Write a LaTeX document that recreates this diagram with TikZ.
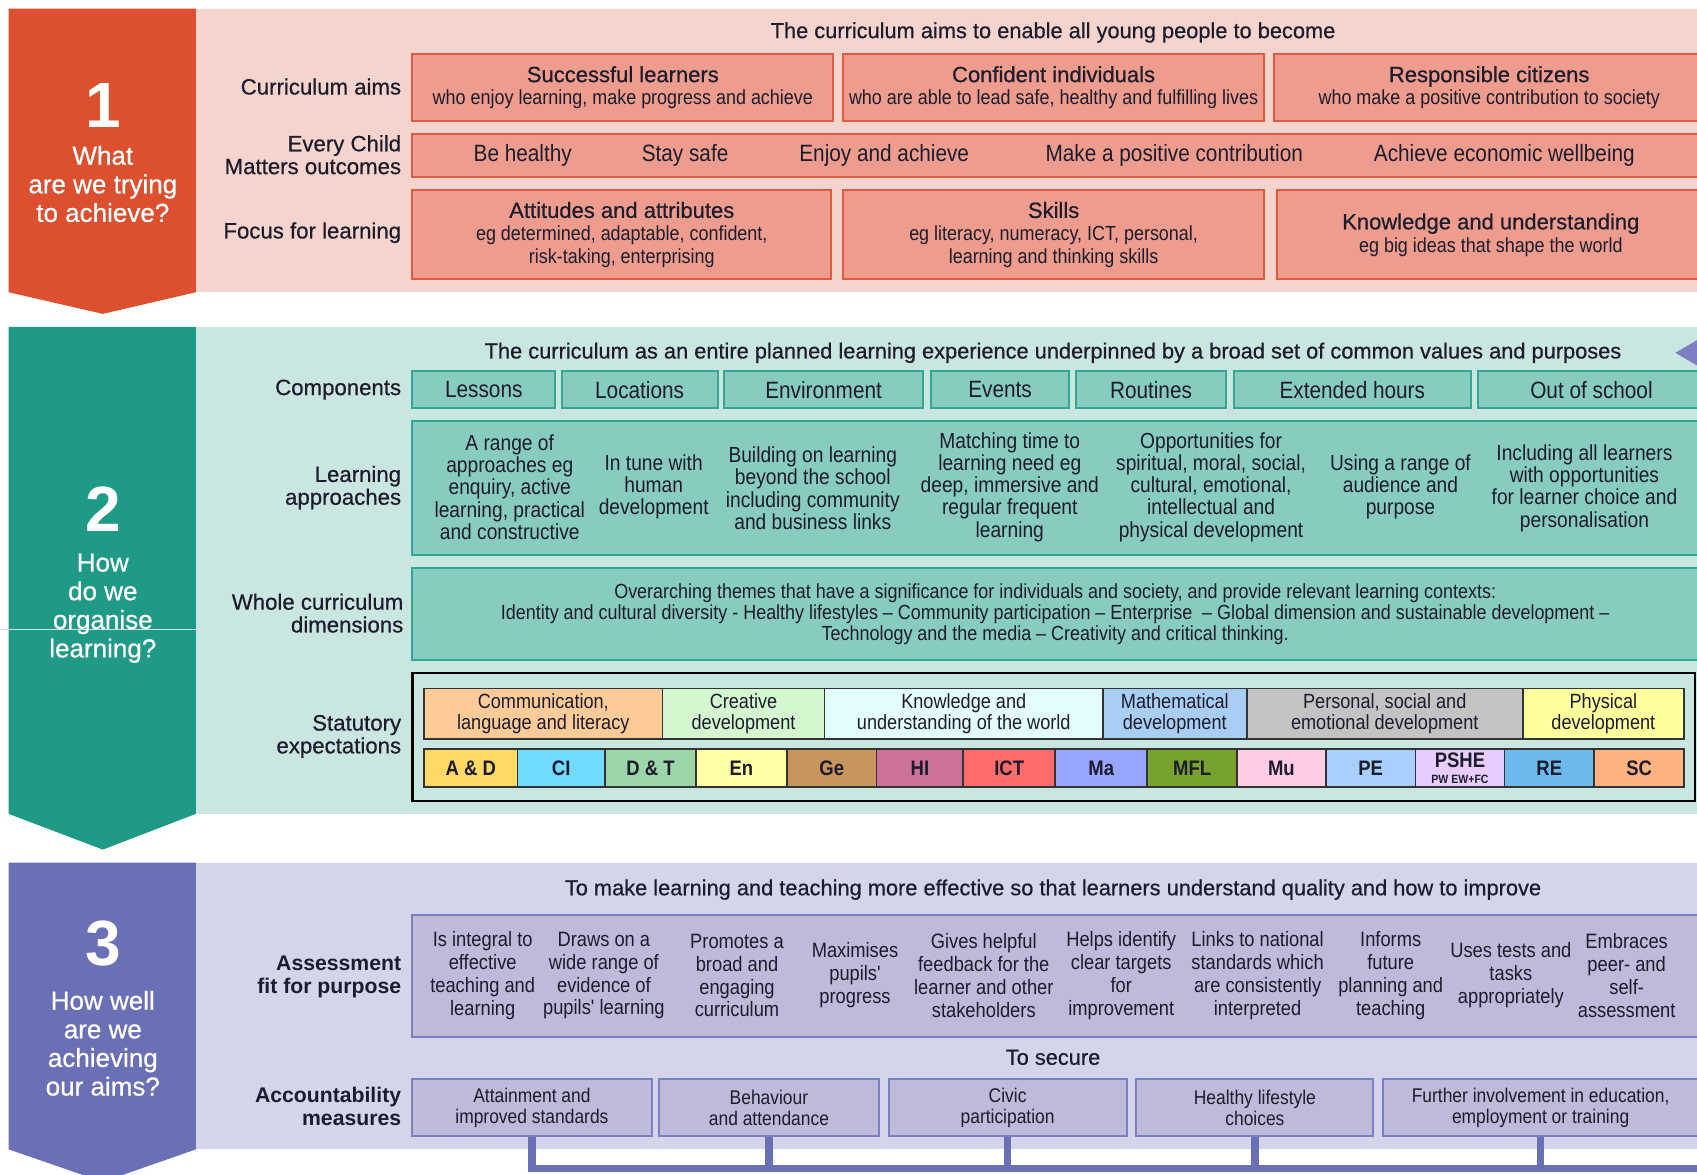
\documentclass[tikz,border=0pt]{standalone}
\usepackage{fontspec}
\setmainfont{Liberation Sans}
\newfontfamily\nf{Liberation Sans}[FakeStretch=0.88]
\newfontfamily\mf{Liberation Sans}[FakeBold=0.6]
\newfontfamily\nmf{Liberation Sans}[FakeStretch=0.88,FakeBold=0.5]
\definecolor{orA}{HTML}{DC4F2F}
\definecolor{orBg}{HTML}{F6D4CE}
\definecolor{orBox}{HTML}{EE9C8D}
\definecolor{orLine}{HTML}{DF5A3F}
\definecolor{tlA}{HTML}{1F9A87}
\definecolor{tlBg}{HTML}{C9E6E0}
\definecolor{tlBox}{HTML}{88CBBF}
\definecolor{tlLine}{HTML}{35A692}
\definecolor{puA}{HTML}{6A70B6}
\definecolor{puBg}{HTML}{D4D5EB}
\definecolor{puBox}{HTML}{BEBADA}
\definecolor{puLine}{HTML}{7C7FC2}
\definecolor{ink}{HTML}{1C1C2C}
\definecolor{cComm}{HTML}{FDCB97}
\definecolor{cCrea}{HTML}{D4F7CF}
\definecolor{cKnow}{HTML}{E3FDFD}
\definecolor{cMath}{HTML}{A9CEF4}
\definecolor{cPers}{HTML}{C3C3C3}
\definecolor{cPhys}{HTML}{FFFF9E}
\definecolor{sAD}{HTML}{FFD966}
\definecolor{sCI}{HTML}{6FDBFF}
\definecolor{sDT}{HTML}{9AD6A8}
\definecolor{sEn}{HTML}{FFFFA6}
\definecolor{sGe}{HTML}{C8955E}
\definecolor{sHI}{HTML}{CC7199}
\definecolor{sICT}{HTML}{FF6B6B}
\definecolor{sMa}{HTML}{99A6FF}
\definecolor{sMFL}{HTML}{77A22E}
\definecolor{sMu}{HTML}{FFCCE6}
\definecolor{sPE}{HTML}{A8CFFF}
\definecolor{sPSHE}{HTML}{E6CCFF}
\definecolor{sRE}{HTML}{6DB9EE}
\definecolor{sSC}{HTML}{FFB380}
\newcommand\fLab{\mf\fontsize{11.1}{11.4}\selectfont}
\newcommand\fLabB{\bfseries\fontsize{10.6}{11.4}\selectfont}
\newcommand\fHead{\mf\fontsize{10.9}{13}\selectfont}
\newcommand\fTitle{\mf\fontsize{11}{11.4}\selectfont}
\newcommand\fSub{\nf\fontsize{10.2}{11.4}\selectfont}
\newcommand\fEcm{\nf\fontsize{11.8}{13}\selectfont}
\newcommand\fLa{\nf\fontsize{10.9}{11.1}\selectfont}
\newcommand\fAs{\nf\fontsize{10.4}{11.4}\selectfont}
\newcommand\fWc{\nf\fontsize{10.2}{10.5}\selectfont}
\newcommand\fSt{\nf\fontsize{10.3}{10.8}\selectfont}
\newcommand\fSw{\nf\bfseries\fontsize{10.5}{11}\selectfont}
\newcommand\fAcc{\nf\fontsize{9.9}{10.3}\selectfont}
\newcommand\fCol{\mf\fontsize{13}{14.3}\selectfont}
\newcommand\fNum{\bfseries\fontsize{32}{34}\selectfont}
\newcommand\bx[7]{\node[#6, minimum width={(#4-#2)*0.5411pt}, minimum height={(#5-#3)*0.5411pt}] (#1) at ({(#2+#4)/2},{(#3+#5)/2}) {#7};}
\begin{document}
\begin{tikzpicture}[x=0.5411pt,y=-0.5411pt,
  box/.style={draw, line width=1pt, inner sep=0pt, align=center, text=ink},
  obox/.style={box, draw=orLine, fill=orBox, font=\fSub},
  tbox/.style={box, draw=tlLine, fill=tlBox, font=\fEcm},
  pbox/.style={box, draw=puLine, fill=puBox, font=\fAcc},
  sw/.style={box, draw=black!80, line width=0.8pt, font=\fSt},
  sw2/.style={box, draw=black!80, line width=0.8pt, font=\fSw},
  lab/.style={anchor=east, align=right, font=\fLab, text=ink, inner sep=0pt},
  labB/.style={lab, font=\fLabB},
  head/.style={font=\fHead, text=ink, inner sep=0pt},
  coltxt/.style={align=center, font=\fCol, text=white, inner sep=0pt},
  num/.style={font=\fNum, text=white, inner sep=0pt},
  latxt/.style={align=center, font=\fLa, text=ink, inner sep=0pt},
  astxt/.style={align=center, font=\fAs, text=ink, inner sep=0pt},
  ecm/.style={font=\fEcm, text=ink, inner sep=0pt},
  bus/.style={draw=puA, line width=3.6pt}]
\useasboundingbox (0,0) rectangle (1568,1085);
\fill[white] (0,0) rectangle (1568,1085);

% ---------- Section 1 ----------
\fill[orBg] (181,8) rectangle (1575,270);
\fill[orA] (8,8) -- (181,8) -- (181,270) -- (95,290) -- (8,270) -- cycle;
\node[num] (n1) at (95,97) {1};
\node[coltxt] (q1) at (95,170) {What\\are we trying\\to achieve?};
\node[head] (h1) at (973,30) {The curriculum aims to enable all young people to become};
\node[lab] (l1a) at (371,80) {Curriculum aims};
\node[lab] (l1b) at (371,143) {Every Child\\Matters outcomes};
\node[lab] (l1c) at (371,215) {Focus for learning};
\bx{a1}{381}{50}{770}{112}{obox}{{\fTitle Successful learners}\\who enjoy learning, make progress and achieve}
\bx{a2}{779}{50}{1168}{112}{obox}{{\fTitle Confident individuals}\\who are able to lead safe, healthy and fulfilling lives}
\bx{a3}{1177}{50}{1575}{112}{obox}{{\fTitle Responsible citizens}\\who make a positive contribution to society}
\bx{ecmbox}{381}{124}{1575}{164}{obox}{}
\node[ecm] (e1) at (483,144) {Be healthy};
\node[ecm] (e2) at (633,144) {Stay safe};
\node[ecm] (e3) at (817,144) {Enjoy and achieve};
\node[ecm] (e4) at (1085,144) {Make a positive contribution};
\node[ecm] (e5) at (1390,144) {Achieve economic wellbeing};
\bx{f1}{381}{176}{768}{258}{obox}{{\fTitle Attitudes and attributes}\\eg determined, adaptable, confident,\\risk-taking, enterprising}
\bx{f2}{779}{176}{1168}{258}{obox}{{\fTitle Skills}\\eg literacy, numeracy, ICT, personal,\\learning and thinking skills}
\bx{f3}{1180}{176}{1575}{258}{obox}{{\fTitle Knowledge and understanding}\\eg big ideas that shape the world}

% ---------- Section 2 ----------
\fill[tlBg] (181,302) rectangle (1575,752);
\fill[tlA] (8,302) -- (181,302) -- (181,752) -- (95,785) -- (8,752) -- cycle;
\draw[tlBg, line width=0.3pt] (0,581) -- (381,581);
\node[num] (n2) at (95,470) {2};
\node[coltxt] (q2) at (95,562) {How\\do we\\organise\\learning?};
\node[head] (h2) at (973,326) {The curriculum as an entire planned learning experience underpinned by a broad set of common values and purposes};
\fill[puLine] (1548,326) -- (1572,312) -- (1572,340) -- cycle;
\node[lab] (l2a) at (371,360) {Components};
\node[lab] (l2b) at (371,450.5) {Learning\\approaches};
\node[lab] (l2c) at (373,566.5) {Whole curriculum\\dimensions};
\node[lab] (l2d) at (371,680.5) {Statutory\\expectations};
\bx{c1}{381}{343}{513}{377}{tbox}{Lessons}
\bx{c2}{519}{343}{663}{377}{tbox}{Locations}
\bx{c3}{669}{343}{853}{377}{tbox}{Environment}
\bx{c4}{860}{343}{988}{377}{tbox}{Events}
\bx{c5}{994}{343}{1133}{377}{tbox}{Routines}
\bx{c6}{1140}{343}{1359}{377}{tbox}{Extended hours}
\bx{c7}{1366}{343}{1575}{377}{tbox}{Out of school}
\bx{labox}{381}{389}{1575}{513}{tbox}{}
\node[latxt] (la1) at (471,450) {A range of\\approaches eg\\enquiry, active\\learning, practical\\and constructive};
\node[latxt] (la2) at (604,450) {In tune with\\human\\development};
\node[latxt] (la3) at (751,451) {Building on learning\\beyond the school\\including community\\and business links};
\node[latxt] (la4) at (933,450) {Matching time to\\learning need eg\\deep, immersive and\\regular frequent\\learning};
\node[latxt] (la5) at (1119,450) {Opportunities for\\spiritual, moral, social,\\cultural, emotional,\\intellectual and\\physical development};
\node[latxt] (la6) at (1294,450) {Using a range of\\audience and\\purpose};
\node[latxt] (la7) at (1464,451) {Including all learners\\with opportunities\\for learner choice and\\personalisation};
\bx{wcbox}{381}{525}{1575}{610}{tbox}{}
\node[latxt, font=\fWc] (wc) at (975,567.5) {Overarching themes that have a significance for individuals and society, and provide relevant learning contexts:\\Identity and cultural diversity - Healthy lifestyles – Community participation – Enterprise \ – Global dimension and sustainable development –\\Technology and the media – Creativity and critical thinking.};
\bx{stbox}{381}{622}{1566}{740}{box, draw=black, line width=1.3pt, fill=tlBg}{}
\bx{s1}{392}{636}{612}{683}{sw, fill=cComm}{Communication,\\language and literacy}
\bx{s2}{612}{636}{762}{683}{sw, fill=cCrea}{Creative\\development}
\bx{s3}{762}{636}{1019}{683}{sw, fill=cKnow}{Knowledge and\\understanding of the world}
\bx{s4}{1019}{636}{1152}{683}{sw, fill=cMath}{Mathematical\\development}
\bx{s5}{1152}{636}{1407}{683}{sw, fill=cPers}{Personal, social and\\emotional development}
\bx{s6}{1407}{636}{1556}{683}{sw, fill=cPhys}{Physical\\development}
\bx{t1}{392}{692}{478}{727}{sw2, fill=sAD}{A \& D}
\bx{t2}{478}{692}{559}{727}{sw2, fill=sCI}{CI}
\bx{t3}{559}{692}{643}{727}{sw2, fill=sDT}{D \& T}
\bx{t4}{643}{692}{727}{727}{sw2, fill=sEn}{En}
\bx{t5}{727}{692}{810}{727}{sw2, fill=sGe}{Ge}
\bx{t6}{810}{692}{890}{727}{sw2, fill=sHI}{HI}
\bx{t7}{890}{692}{975}{727}{sw2, fill=sICT}{ICT}
\bx{t8}{975}{692}{1060}{727}{sw2, fill=sMa}{Ma}
\bx{t9}{1060}{692}{1143}{727}{sw2, fill=sMFL}{MFL}
\bx{t10}{1143}{692}{1225}{727}{sw2, fill=sMu}{Mu}
\bx{t11}{1225}{692}{1308}{727}{sw2, fill=sPE}{PE}
\bx{t12}{1308}{692}{1390}{727}{sw2, fill=sPSHE}{PSHE\\[-3pt]{\fontsize{6}{6}\selectfont PW EW+FC}}
\bx{t13}{1390}{692}{1473}{727}{sw2, fill=sRE}{RE}
\bx{t14}{1473}{692}{1556}{727}{sw2, fill=sSC}{SC}

% ---------- Section 3 ----------
\fill[puBg] (181,797) rectangle (1575,1062);
\fill[puA] (8,797) -- (181,797) -- (181,1062) -- (95,1092) -- (8,1062) -- cycle;
\node[num] (n3) at (95,872) {3};
\node[coltxt] (q3) at (95,964) {How well\\are we\\achieving\\our aims?};
\node[head] (h3) at (973,822) {To make learning and teaching more effective so that learners understand quality and how to improve};
\node[labB] (l3a) at (371,902.5) {Assessment\\fit for purpose};
\node[labB] (l3b) at (371,1022.5) {Accountability\\measures};
\bx{asbox}{381}{845}{1575}{958}{pbox}{}
\node[astxt] (as1) at (446,901.5) {Is integral to\\effective\\teaching and\\learning};
\node[astxt] (as2) at (558,901.5) {Draws on a\\wide range of\\evidence of\\pupils' learning};
\node[astxt] (as3) at (681,901.5) {Promotes a\\broad and\\engaging\\curriculum};
\node[astxt] (as4) at (790,901) {Maximises\\pupils'\\progress};
\node[astxt] (as5) at (909,901.5) {Gives helpful\\feedback for the\\learner and other\\stakeholders};
\node[astxt] (as6) at (1036,901.5) {Helps identify\\clear targets\\for\\improvement};
\node[astxt] (as7) at (1162,901.5) {Links to national\\standards which\\are consistently\\interpreted};
\node[astxt] (as8) at (1285,901.5) {Informs\\future\\planning and\\teaching};
\node[astxt] (as9) at (1396,901) {Uses tests and\\tasks\\appropriately};
\node[astxt] (as10) at (1503,901.5) {Embraces\\peer- and\\self-\\assessment};
\node[head] (sec) at (973,977) {To secure};
\bx{m1}{381}{997}{602}{1050}{pbox}{Attainment and\\improved standards}
\bx{m2}{609}{997}{812}{1050}{pbox}{Behaviour\\and attendance}
\bx{m3}{821}{997}{1041}{1050}{pbox}{Civic\\participation}
\bx{m4}{1050}{997}{1269}{1050}{pbox}{Healthy lifestyle\\choices}
\bx{m5}{1278}{997}{1569}{1050}{pbox}{Further involvement in education,\\employment or training}
\coordinate (busR) at (1575,1080);
\draw[bus, line join=miter] (m1.south) -- (m1.south |- busR) -- (busR);
\foreach \m in {m2,m3,m4,m5} \draw[bus] (\m.south) -- (\m.south |- busR);
\end{tikzpicture}
\end{document}
